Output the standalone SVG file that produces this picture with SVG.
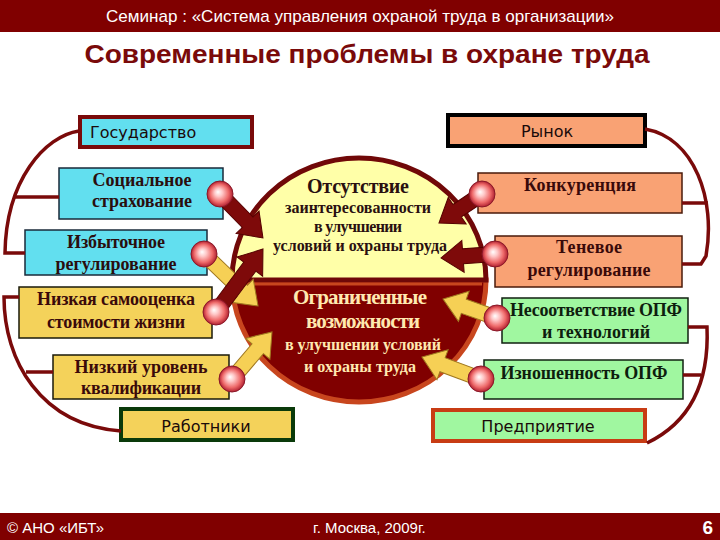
<svg xmlns="http://www.w3.org/2000/svg" width="720" height="540" viewBox="0 0 720 540">
<defs>
<radialGradient id="ball" cx="0.5" cy="0.5" r="0.5" fx="0.42" fy="0.42">
<stop offset="0" stop-color="#FFFFFF"/>
<stop offset="0.3" stop-color="#FFC8C8"/>
<stop offset="0.7" stop-color="#EE6A6A"/>
<stop offset="1" stop-color="#B02030"/>
</radialGradient>
<style>
.hd{font-family:"Liberation Sans Narrow","Liberation Sans",Arial,sans-serif;fill:#fff}
.ttl{font-family:"Liberation Sans Narrow","Liberation Sans",Arial,sans-serif;font-weight:bold;fill:#7A0A0A}
.cat{font-family:"DejaVu Sans","Noto Sans",sans-serif;font-size:16px;fill:#1A0A0A}
.bx{font-family:"Liberation Serif","Times New Roman",serif;font-weight:bold;font-size:18px;text-anchor:middle}
.ct{font-family:"Liberation Serif","Times New Roman",serif;font-weight:bold;text-anchor:middle}
.cy{fill:#62DFEF;stroke:#1A2A3A;stroke-width:1.5}
.ye{fill:#F4D25A;stroke:#1A1A0A;stroke-width:1.5}
.sa{fill:#F9A274;stroke:#4A1A0A;stroke-width:1.5}
.gr{fill:#A0F7A0;stroke:#102010;stroke-width:1.5}
.br{fill:none;stroke:#7A0A0A;stroke-width:3.5}
.ar{fill:#7E0A0A;stroke:#550000;stroke-width:1}
.ay{fill:#F6D055;stroke:#A07820;stroke-width:1}
.bl{fill:url(#ball);stroke:#8A1828;stroke-width:1}
</style>
</defs>
<rect width="720" height="540" fill="#FFFFFF"/>
<rect x="0" y="0" width="720" height="32" fill="#800000"/>
<text class="hd" x="360" y="22" font-size="17" text-anchor="middle" textLength="508" lengthAdjust="spacingAndGlyphs">Семинар : «Система управления охраной труда в организации»</text>
<text class="ttl" x="367" y="63" font-size="26" text-anchor="middle" textLength="565" lengthAdjust="spacingAndGlyphs">Современные проблемы в охране труда</text>

<g id="gosudarstvo">
<rect x="80" y="117" width="172" height="30" fill="#62DFEF" stroke="#7A0A0A" stroke-width="4"/>
<text class="cat" x="90" y="138">Государство</text>
</g>
<g id="rynok">
<rect x="448" y="115" width="197" height="31" fill="#F9A274" stroke="#000000" stroke-width="4"/>
<text class="cat" x="547" y="137" text-anchor="middle">Рынок</text>
</g>
<g id="rabotniki">
<rect x="121" y="409" width="172" height="31" fill="#F4D25A" stroke="#0A3A0A" stroke-width="4"/>
<text class="cat" x="206" y="432" text-anchor="middle" font-size="17">Работники</text>
</g>
<g id="predpriyatie">
<rect x="433" y="410" width="212" height="31" fill="#A0F7A0" stroke="#C83C14" stroke-width="4"/>
<text class="cat" x="538" y="432" text-anchor="middle" font-size="17">Предприятие</text>
</g>

<g id="soc-strakh">
<rect class="cy" x="59" y="168" width="164" height="51"/>
<text class="bx" fill="#2A0E0E" x="142" y="186" textLength="99">Социальное</text>
<text class="bx" fill="#2A0E0E" x="142" y="207" textLength="100">страхование</text>
</g>
<g id="izb-regul">
<rect class="cy" x="25" y="230" width="182" height="45"/>
<text class="bx" fill="#2A0E0E" x="116" y="248" textLength="98">Избыточное</text>
<text class="bx" fill="#2A0E0E" x="116" y="270" textLength="121">регулирование</text>
</g>
<g id="nizk-samoocenka">
<rect class="ye" x="19" y="287" width="193" height="51"/>
<text class="bx" fill="#3A0A0A" x="116" y="305" textLength="158">Низкая самооценка</text>
<text class="bx" fill="#3A0A0A" x="116" y="328" textLength="138">стоимости жизни</text>
</g>
<g id="nizk-uroven">
<rect class="ye" x="53" y="355" width="176" height="44"/>
<text class="bx" fill="#3A0A0A" x="141" y="373" textLength="133">Низкий уровень</text>
<text class="bx" fill="#3A0A0A" x="141" y="394" textLength="120">квалификации</text>
</g>
<g id="konkurenciya">
<rect class="sa" x="478" y="173" width="204" height="40"/>
<text class="bx" fill="#3A0A0A" x="580" y="191" textLength="112">Конкуренция</text>
</g>
<g id="tenevoe">
<rect class="sa" x="495" y="236" width="187" height="51"/>
<text class="bx" fill="#3A0A0A" x="589" y="253" textLength="66">Теневое</text>
<text class="bx" fill="#3A0A0A" x="589" y="276" textLength="123">регулирование</text>
</g>
<g id="nesootv">
<rect class="gr" x="502" y="298" width="186" height="45"/>
<text class="bx" fill="#0E1E0E" x="596" y="316" textLength="172">Несоответствие ОПФ</text>
<text class="bx" fill="#0E1E0E" x="596" y="338" textLength="108">и технологий</text>
</g>
<g id="iznosh">
<rect class="gr" x="484" y="360" width="199" height="39"/>
<text class="bx" fill="#0E1E0E" x="584" y="379" textLength="167">Изношенность ОПФ</text>
</g>

<g id="center">
<path d="M232,280 A127,122 0 0 0 486,280 Z" fill="#800000" stroke="#C8461E" stroke-width="5"/>
<path d="M232,280 A127,122 0 0 1 486,280 Z" fill="#FFFFA8" stroke="#700808" stroke-width="5"/>
<line x1="236" y1="284" x2="482" y2="284" stroke="#C8461E" stroke-width="3"/>
<text class="ct" fill="#2A1010" x="358" y="193" font-size="20" textLength="102">Отсутствие</text>
<text class="ct" fill="#2A1010" x="358" y="213" font-size="16" textLength="146">заинтересованности</text>
<text class="ct" fill="#2A1010" x="358" y="232" font-size="16" textLength="88">в улучшении</text>
<text class="ct" fill="#2A1010" x="360" y="251" font-size="16" textLength="174">условий и охраны труда</text>
<text class="ct" fill="#FFE9B0" x="360" y="304" font-size="21" textLength="134">Ограниченные</text>
<text class="ct" fill="#FFE9B0" x="363" y="328" font-size="21" textLength="114">возможности</text>
<text class="ct" fill="#FFE9B0" x="363" y="350" font-size="16" textLength="156">в улучшении условий</text>
<text class="ct" fill="#FFE9B0" x="360" y="372" font-size="16" textLength="112">и охраны труда</text>
</g>

<g id="connectors">
<path class="br" d="M79,131 C45,136 6,180 5,253 L25,253"/>
<path class="br" d="M15,197 L59,197"/>
<path class="br" d="M19,297 L4,297 C4,360 40,425 121,431"/>
<path class="br" d="M26,372 L53,372"/>
<path class="br" d="M645,129 C695,138 716,200 706,256 L701,264 L682,264"/>
<path class="br" d="M682,203 L708,203"/>
<path class="br" d="M688,327 L707,327 C709,375 695,420 647,443"/>
<path class="br" d="M683,375 L701,375"/>

<polygon class="ay" transform="translate(204,254) rotate(43.9)" points="0,-7.5 53,-7.5 53,-16 75,0 53,16 53,7.5 0,7.5"/>
<polygon class="ar" transform="translate(220,194) rotate(45.7)" points="0,-7.5 39.5,-7.5 39.5,-16 61.5,0 39.5,16 39.5,7.5 0,7.5"/>
<polygon class="ar" transform="translate(216,312) rotate(-53.3)" points="0,-7.5 56.6,-7.5 56.6,-16 78.6,0 56.6,16 56.6,7.5 0,7.5"/>
<polygon class="ay" transform="translate(232,379) rotate(-49.6)" points="0,-7.5 39.7,-7.5 39.7,-16 61.7,0 39.7,16 39.7,7.5 0,7.5"/>
<polygon class="ar" transform="translate(482,194) rotate(146)" points="0,-7.5 29.9,-7.5 29.9,-16 51.9,0 29.9,16 29.9,7.5 0,7.5"/>
<polygon class="ar" transform="translate(495,254) rotate(175.8)" points="0,-7.5 32.1,-7.5 32.1,-16 54.1,0 32.1,16 32.1,7.5 0,7.5"/>
<polygon class="ay" transform="translate(497,318) rotate(-160.6)" points="0,-7.5 35.2,-7.5 35.2,-16 57.2,0 35.2,16 35.2,7.5 0,7.5"/>
<polygon class="ay" transform="translate(481,379) rotate(-159.6)" points="0,-7.5 41,-7.5 41,-16 63,0 41,16 41,7.5 0,7.5"/>

<circle class="bl" cx="220" cy="194" r="13"/>
<circle class="bl" cx="204" cy="254" r="13"/>
<circle class="bl" cx="216" cy="312" r="13"/>
<circle class="bl" cx="232" cy="379" r="13"/>
<circle class="bl" cx="482" cy="194" r="13"/>
<circle class="bl" cx="495" cy="254" r="13"/>
<circle class="bl" cx="497" cy="318" r="13"/>
<circle class="bl" cx="481" cy="379" r="13"/>
</g>

<rect x="0" y="513" width="720" height="27" fill="#800000"/>
<text class="hd" x="7" y="533" font-size="15">© АНО «ИБТ»</text>
<text class="hd" x="313" y="533" font-size="15">г. Москва,  2009г.</text>
<text class="hd" x="713" y="534" font-size="19" font-weight="bold" text-anchor="end">6</text>
</svg>
